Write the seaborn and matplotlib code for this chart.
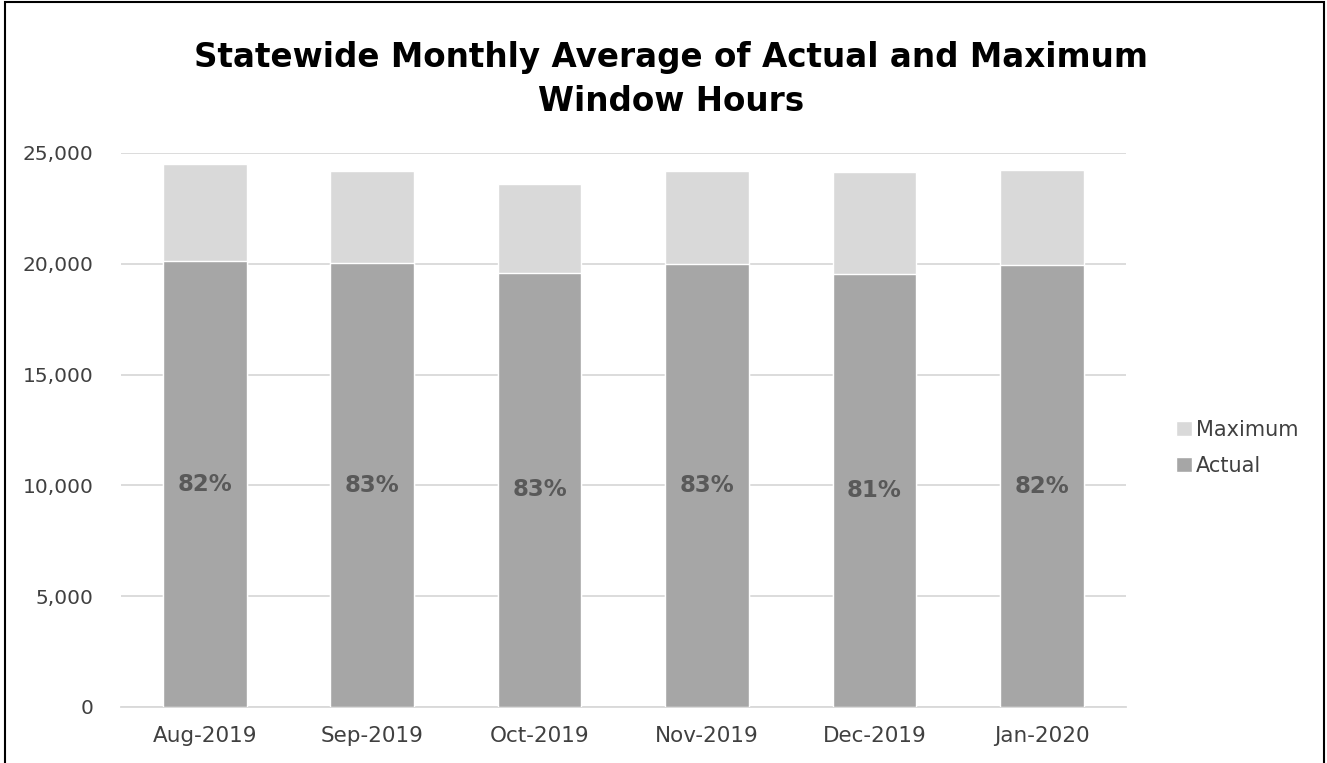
import pandas as pd
import matplotlib.pyplot as plt
import seaborn as sns
from matplotlib.patches import Rectangle, Patch

# values
months = ['Aug-2019', 'Sep-2019', 'Oct-2019', 'Nov-2019', 'Dec-2019', 'Jan-2020']
actual_hours = [20120, 20030, 19590, 20000, 19535, 19940]
maximum_hours = [24520, 24200, 23610, 24200, 24140, 24250]
pct_labels = ['82%', '83%', '83%', '83%', '81%', '82%']

df = pd.DataFrame({'month': months, 'actual': actual_hours, 'maximum': maximum_hours})

sns.set_theme(style="white")
plt.rcParams['font.family'] = ['DejaVu Sans']

fig = plt.figure(figsize=(13.27, 7.63), dpi=100)
ax = fig.add_axes([0.0912, 0.0734, 0.757, 0.7261])

light = '#d9d9d9'
dark = '#a6a6a6'
text_col = '#404040'

# maximum drawn full height, actual on top of it
sns.barplot(data=df, x='month', y='maximum', color=light, width=0.5, saturation=1, ax=ax, zorder=2)
sns.barplot(data=df, x='month', y='actual', color=dark, width=0.5, saturation=1, ax=ax, zorder=3)

for i, (a, lab) in enumerate(zip(actual_hours, pct_labels)):
    ax.text(i, a / 2, lab, ha='center', va='center', fontsize=16.5, weight='bold', color='#595959', zorder=4)

ax.set_ylim(0, 25000)
ax.set_yticks(range(0, 25001, 5000))
ax.set_yticklabels([f'{v:,}' for v in range(0, 25001, 5000)])
ax.yaxis.grid(True, color=light, linewidth=1.3, zorder=0)
ax.set_axisbelow(True)
ax.set_xlabel('')
ax.set_ylabel('')
ax.tick_params(axis='both', length=0, labelcolor=text_col)
ax.tick_params(axis='y', pad=20, labelsize=14.5)
ax.tick_params(axis='x', pad=14, labelsize=15.5)
for side in ['top', 'right', 'left']:
    ax.spines[side].set_visible(False)
ax.spines['bottom'].set_color(light)
ax.spines['bottom'].set_linewidth(1.3)

handles = [Patch(facecolor=light, label='Maximum'), Patch(facecolor=dark, label='Actual')]
fig.legend(handles=handles, loc='center left', bbox_to_anchor=(0.872, 0.413), frameon=False,
           fontsize=15, handlelength=0.75, handleheight=0.75, handletextpad=0.2,
           labelspacing=0.75, labelcolor=text_col)

fig.text(0.506, 0.896, 'Statewide Monthly Average of Actual and Maximum\nWindow Hours',
         ha='center', va='center', fontsize=23.5, weight='bold', color='black', linespacing=1.4)

# chart frame
fig.patches.append(Rectangle((0.004, -0.01), 0.994, 1.007, transform=fig.transFigure,
                             fill=False, edgecolor='black', linewidth=1.5))

fig.savefig('out.png', dpi=100)
